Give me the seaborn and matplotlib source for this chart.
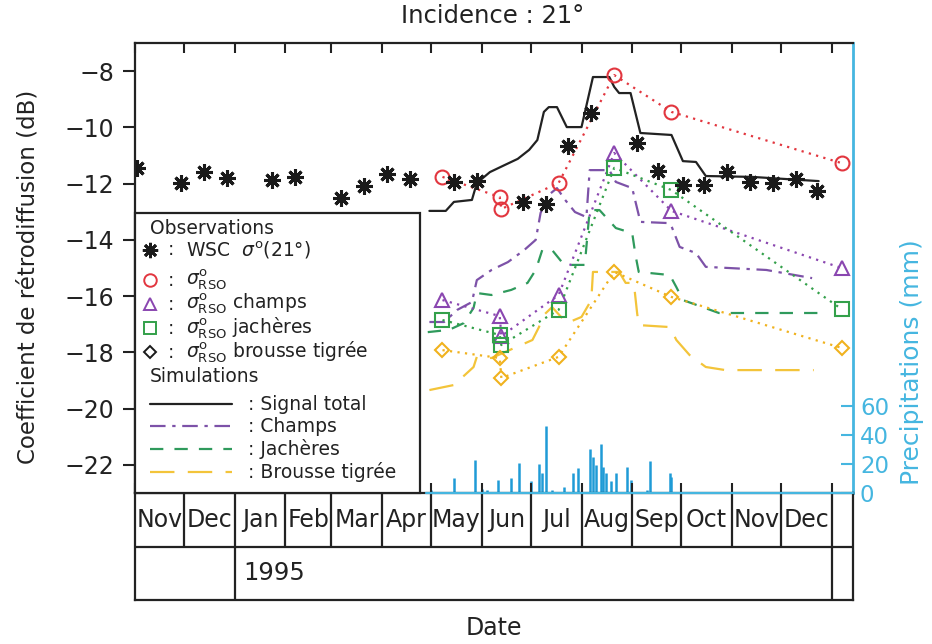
import matplotlib
matplotlib.use("Agg")
import matplotlib.pyplot as plt
import matplotlib.dates as mdates
from matplotlib.ticker import NullFormatter
from matplotlib.patches import Rectangle
from matplotlib.lines import Line2D
import pandas as pd
import seaborn as sns

sns.set_theme(style="white")
plt.rcParams["font.family"] = ["DejaVu Sans"]
plt.rcParams["mathtext.fontset"] = "dejavusans"

# ---- WSC scatterometer backscatter at 21 deg (dB) ----
wsc_dates = ["1994-11-02", "1994-11-29", "1994-12-13", "1994-12-27", "1995-01-24",
             "1995-02-07", "1995-03-07", "1995-03-21", "1995-04-04", "1995-04-18",
             "1995-05-15", "1995-05-29", "1995-06-26", "1995-07-10", "1995-07-24",
             "1995-08-07", "1995-09-04", "1995-09-17", "1995-10-02", "1995-10-15",
             "1995-10-29", "1995-11-12", "1995-11-26", "1995-12-10", "1995-12-23"]
wsc_db = [-11.44, -11.98, -11.59, -11.80, -11.87, -11.76, -12.51, -12.08, -11.66, -11.84,
          -11.94, -11.91, -12.65, -12.72, -10.66, -9.49, -10.56, -11.55, -12.05, -12.05,
          -11.59, -11.94, -11.98, -11.84, -12.26]

# ---- SAR (RSO) acquisitions ----
rso_dates = ["1995-05-08", "1995-06-12", "1995-06-13", "1995-07-18",
             "1995-08-21", "1995-09-25", "1996-01-07"]
rso_total = [-11.76, -12.48, -12.90, -11.98, -8.14, -9.45, -11.27]
rso_champs = [-16.14, -16.71, -17.42, -15.96, -10.91, -12.97, -15.00]
rso_jacheres = [-16.85, -17.38, -17.74, -16.49, -11.44, -12.23, -16.46]
rso_brousse = [-17.92, -18.20, -18.91, -18.16, -15.14, -16.03, -17.84]

# ---- simulated signals ----
sim_total_dates = ["1995-04-30", "1995-05-10", "1995-05-15", "1995-05-26", "1995-05-29",
                   "1995-06-06", "1995-06-15", "1995-06-23", "1995-06-30", "1995-07-05",
                   "1995-07-09", "1995-07-12", "1995-07-17", "1995-07-23", "1995-08-01",
                   "1995-08-08", "1995-08-18", "1995-08-21", "1995-08-24", "1995-08-31",
                   "1995-09-06", "1995-09-25", "1995-10-02", "1995-10-10", "1995-10-16",
                   "1995-11-13", "1995-12-24"]
sim_total = [-12.97, -12.97, -12.65, -12.58, -11.98, -11.59, -11.34, -11.12, -10.80, -10.45,
             -9.45, -9.28, -9.28, -9.99, -9.99, -8.21, -8.21, -8.56, -8.78, -8.78,
             -10.20, -10.27, -11.20, -11.23, -11.73, -11.76, -11.91]

sim_champs_dates = ["1995-04-30", "1995-05-09", "1995-05-17", "1995-05-26", "1995-05-29",
                    "1995-06-07", "1995-06-17", "1995-06-27", "1995-07-04", "1995-07-07",
                    "1995-07-12", "1995-07-17", "1995-07-22", "1995-07-28", "1995-08-04",
                    "1995-08-06", "1995-08-18", "1995-08-22", "1995-09-01", "1995-09-06",
                    "1995-09-22", "1995-09-25", "1995-09-30", "1995-10-10", "1995-10-16",
                    "1995-10-30", "1995-11-22", "1995-12-20"]
sim_champs = [-16.92, -16.92, -16.49, -16.21, -15.43, -15.07, -14.79, -14.36, -14.00, -13.04,
              -12.40, -12.16, -12.58, -13.01, -13.19, -11.52, -11.52, -11.94, -12.16, -13.36,
              -13.40, -13.51, -14.25, -14.47, -14.96, -15.00, -15.07, -15.36]

sim_jach_dates = ["1995-04-29", "1995-05-12", "1995-05-21", "1995-05-27", "1995-05-29",
                  "1995-06-07", "1995-06-19", "1995-06-29", "1995-07-04", "1995-07-06",
                  "1995-07-08", "1995-07-14", "1995-07-20", "1995-07-23", "1995-08-03",
                  "1995-08-06", "1995-08-12", "1995-08-22", "1995-09-01", "1995-09-03",
                  "1995-09-05", "1995-09-24", "1995-09-28", "1995-10-02", "1995-10-14",
                  "1995-10-24", "1995-12-24"]
sim_jach = [-17.28, -17.20, -16.96, -16.42, -15.89, -15.96, -15.78, -15.53, -15.07, -14.72,
            -14.36, -14.36, -14.79, -14.89, -14.89, -12.94, -12.94, -13.58, -13.76, -14.54,
            -15.14, -15.25, -15.68, -16.14, -16.39, -16.60, -16.60]

sim_brousse_dates = ["1995-04-30", "1995-05-15", "1995-05-27", "1995-05-29", "1995-06-07",
                     "1995-07-02", "1995-07-06", "1995-07-09", "1995-07-14", "1995-07-23",
                     "1995-08-01", "1995-08-07", "1995-08-08", "1995-08-24", "1995-08-28",
                     "1995-09-02", "1995-09-04", "1995-09-05", "1995-09-24", "1995-09-28",
                     "1995-10-06", "1995-10-16", "1995-10-28", "1995-12-21"]
sim_brousse = [-19.34, -19.16, -18.52, -18.16, -18.20, -17.56, -17.10, -16.67, -16.39, -16.96,
               -16.74, -16.14, -15.14, -15.14, -15.53, -15.53, -16.60, -17.03, -17.10, -17.56,
               -18.09, -18.52, -18.63, -18.63]

# ---- daily rainfall (mm) ----
rain_dates = ["1995-05-01", "1995-05-15", "1995-05-28", "1995-06-01", "1995-06-04",
              "1995-06-11", "1995-06-19", "1995-06-24", "1995-07-01", "1995-07-06",
              "1995-07-08", "1995-07-10", "1995-07-14", "1995-07-21", "1995-07-27",
              "1995-07-30", "1995-08-06", "1995-08-08", "1995-08-10", "1995-08-13",
              "1995-08-14", "1995-08-16", "1995-08-19", "1995-08-22", "1995-08-29",
              "1995-08-31", "1995-09-10", "1995-09-12", "1995-09-24", "1995-09-25"]
rain_mm = [2, 10, 23, 3, 2, 9, 10, 21, 8, 20, 14, 46, 2, 4, 14, 17, 30, 25, 19, 34,
           18, 14, 8, 14, 18, 9, 2, 22, 14, 11]

month_names = ["Nov", "Dec", "Jan", "Feb", "Mar", "Apr", "May", "Jun",
               "Jul", "Aug", "Sep", "Oct", "Nov", "Dec"]
year_label = "1995"

# ---- colours ----
RED = "#e2363f"
PURPLE = "#8a46b0"
GREEN = "#33a04a"
GOLD = "#f0b21e"
SIM_PURPLE = "#7d52a8"
SIM_GREEN = "#2f9a5c"
SIM_GOLD = "#f3c43a"
RAIN = "#1f9bd6"
CYAN = "#45b6e0"
INK = "#222222"

to_dt = pd.to_datetime
x_start, x_end = to_dt("1994-11-01"), to_dt("1996-01-14")

fig = plt.figure(figsize=(9.32, 6.44), dpi=100)
L, B, W, H = 135 / 932, 1 - 493 / 644, 718 / 932, 450 / 644
ax = fig.add_axes([L, B, W, H])
ax2 = ax.twinx()
ax.set_zorder(ax2.get_zorder() + 1)
ax.patch.set_visible(False)

# rainfall stems on the secondary axis
ax2.vlines(to_dt(rain_dates), 0, rain_mm, color=RAIN, lw=1.8)
ax2.set_ylim(0, 310)
ax2.set_yticks([0, 20, 40, 60])
ax2.tick_params(axis="y", direction="in", length=9, width=1.5, colors=CYAN,
                labelsize=16.5, pad=5)
for s in ["left", "top", "bottom"]:
    ax2.spines[s].set_visible(False)
ax2.spines["right"].set_color(CYAN)
ax2.spines["right"].set_linewidth(2)
ax2.grid(False)

# simulations
sim_style = dict(estimator=None, sort=False, ax=ax, lw=1.6)
sns.lineplot(x=to_dt(sim_total_dates), y=sim_total, color=INK, **sim_style)
sns.lineplot(x=to_dt(sim_champs_dates), y=sim_champs, color=SIM_PURPLE,
             linestyle=(0, (7, 3, 1.5, 3)), **sim_style)
sns.lineplot(x=to_dt(sim_jach_dates), y=sim_jach, color=SIM_GREEN,
             linestyle=(0, (6, 5)), **sim_style)
sns.lineplot(x=to_dt(sim_brousse_dates), y=sim_brousse, color=SIM_GOLD,
             linestyle=(0, (11, 6)), **sim_style)

# SAR observations: dotted lines with hollow markers
obs_style = dict(estimator=None, sort=False, ax=ax, lw=1.6, linestyle=(0, (1, 2.4)),
                 markerfacecolor="none", markeredgewidth=1.5)
rso_x = to_dt(rso_dates)
sns.lineplot(x=rso_x, y=rso_total, color=RED, marker="o", markersize=10,
             markeredgecolor=RED, **obs_style)
sns.lineplot(x=rso_x, y=rso_champs, color=PURPLE, marker="^", markersize=10,
             markeredgecolor=PURPLE, **obs_style)
sns.lineplot(x=rso_x, y=rso_jacheres, color=GREEN, marker="s", markersize=9.5,
             markeredgecolor=GREEN, **obs_style)
sns.lineplot(x=rso_x, y=rso_brousse, color=GOLD, marker="D", markersize=7.5,
             markeredgecolor=GOLD, **obs_style)

# scatterometer
sns.lineplot(x=to_dt(wsc_dates), y=wsc_db, estimator=None, sort=False, ax=ax,
             linestyle="none", marker=(8, 2, 0), markersize=12, color="k",
             markeredgecolor="k", markeredgewidth=2.2)

ax.set_xlim(x_start, x_end)
ax2.set_xlim(x_start, x_end)
ax.set_ylim(-23, -7)
ax.set_yticks([-22, -20, -18, -16, -14, -12, -10, -8])
ax.set_yticklabels(["\u221222", "\u221220", "\u221218", "\u221216", "\u221214",
                    "\u221212", "\u221210", "\u22128"])
ax.set_xlabel("")
ax.set_ylabel("")
ax.grid(False)
ax.xaxis.set_major_locator(mdates.MonthLocator())
ax.xaxis.set_major_formatter(NullFormatter())
ax.tick_params(axis="x", which="major", direction="in", top=True, bottom=True,
               length=7, width=1.5, color=INK, labelbottom=False)
ax.tick_params(axis="y", left=True, right=False, direction="out", length=9,
               width=1.5, color=INK, labelsize=17, pad=6, labelcolor=INK)
for s in ["left", "top", "bottom"]:
    ax.spines[s].set_color(INK)
    ax.spines[s].set_linewidth(1.6)
ax.spines["right"].set_visible(False)

# cyan rainfall baseline
ax.plot([to_dt("1995-04-28"), x_end], [0, 0], transform=ax.get_xaxis_transform(),
        color=CYAN, lw=1.6, clip_on=False, zorder=6)

# ---- legend box ----
T = ax.transAxes
def fx(px):
    return (px - 135) / 718
def fy(py):
    return (493 - py) / 450

ax.add_patch(Rectangle((0, 0), fx(420), fy(213), transform=T, facecolor="white",
                       edgecolor=INK, lw=1.6, zorder=20, clip_on=False))
lg = dict(transform=T, fontsize=13.5, va="center", ha="left", color=INK, zorder=21)
ax.text(fx(150), fy(229), "Observations", **lg)
obs_rows = [
    (250, dict(marker=(8, 2, 0), markersize=11, color="k", mec="k", mew=2.0),
     r"WSC  $\sigma^{\rm o}$(21°)"),
    (280, dict(marker="o", markersize=9, mfc="none", mec=RED, mew=1.4),
     r"$\sigma^{\rm o}_{\rm RSO}$"),
    (304, dict(marker="^", markersize=9, mfc="none", mec=PURPLE, mew=1.4),
     r"$\sigma^{\rm o}_{\rm RSO}$ champs"),
    (328, dict(marker="s", markersize=8.5, mfc="none", mec=GREEN, mew=1.4),
     r"$\sigma^{\rm o}_{\rm RSO}$ jachères"),
    (352, dict(marker="D", markersize=6.5, mfc="none", mec="k", mew=1.4),
     r"$\sigma^{\rm o}_{\rm RSO}$ brousse tigrée"),
]
for py, mk, label in obs_rows:
    ax.add_line(Line2D([fx(150)], [fy(py)], transform=T, linestyle="none",
                       zorder=21, clip_on=False, **mk))
    ax.text(fx(168), fy(py), ":", **lg)
    ax.text(fx(186), fy(py), label, **lg)

ax.text(fx(150), fy(377), "Simulations", **lg)
sim_rows = [
    (404, INK, "-", "Signal total"),
    (426, SIM_PURPLE, (0, (7, 3, 1.5, 3)), "Champs"),
    (449, SIM_GREEN, (0, (6, 5)), "Jachères"),
    (472, SIM_GOLD, (0, (11, 6)), "Brousse tigrée"),
]
for py, c, ls, label in sim_rows:
    ax.add_line(Line2D([fx(150), fx(232)], [fy(py), fy(py)], transform=T, color=c,
                       linestyle=ls, lw=1.6, zorder=21, clip_on=False))
    ax.text(fx(248), fy(py), ": " + label, **lg)

# ---- date table under the plot ----
tab = fig.add_axes([L, 1 - 600 / 644, W, 107 / 644])
tab.set_xlim(x_start, x_end)
tab.set_ylim(0, 2)
tab.set_xticks([])
tab.set_yticks([])
tab.grid(False)
for s in tab.spines.values():
    s.set_color(INK)
    s.set_linewidth(1.6)
tab.spines["top"].set_visible(False)
bounds = pd.date_range("1994-11-01", "1996-01-01", freq="MS")
tab.vlines(bounds[1:], 1, 2, color=INK, lw=1.6)
tab.vlines([to_dt("1995-01-01"), to_dt("1996-01-01")], 0, 1, color=INK, lw=1.6)
tab.axhline(1, color=INK, lw=1.6)
for start, end, name in zip(bounds[:-1], bounds[1:], month_names):
    tab.text(start + (end - start) / 2, 1.5, name, ha="center", va="center",
             fontsize=17, color=INK)
tab.text(to_dt("1995-01-06"), 0.5, year_label, ha="left", va="center",
         fontsize=17.5, color=INK)

# ---- titles and axis labels ----
fig.text(493 / 932, 1 - 16 / 644, "Incidence : 21°", ha="center", va="center",
         fontsize=17.5, color=INK)
fig.text(28 / 932, 1 - 277 / 644, "Coefficient de rétrodiffusion (dB)", rotation=90,
         ha="center", va="center", fontsize=16.5, color=INK)
fig.text(912 / 932, 1 - 362 / 644, "Precipitations (mm)", rotation=90,
         ha="center", va="center", fontsize=18, color=CYAN)
fig.text(494 / 932, 1 - 628 / 644, "Date", ha="center", va="center",
         fontsize=17, color=INK)

fig.savefig("out.png", dpi=100)
